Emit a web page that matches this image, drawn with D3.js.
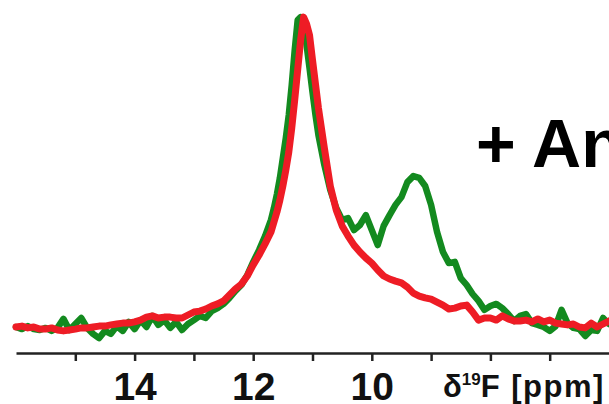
<!DOCTYPE html>
<html>
<head>
<meta charset="utf-8">
<script src="https://cdn.jsdelivr.net/npm/d3@7"></script>
<style>
  html, body { margin: 0; padding: 0; background: #fff; overflow: hidden; }
  svg { display: block; }
</style>
</head>
<body>
<svg id="chart" width="609" height="404"></svg>
<script>
// chemical shift grid (ppm)
const ppm = [16.0,15.9,15.8,15.7,15.6,15.5,15.4,15.3,15.2,15.1,15.0,14.9,14.8,14.7,14.6,14.5,14.4,14.3,14.2,14.1,
  14.0,13.9,13.8,13.7,13.6,13.5,13.4,13.3,13.2,13.1,13.0,12.9,12.8,12.7,12.6,12.5,12.4,12.3,12.2,12.1,
  12.0,11.9,11.8,11.7,11.65,11.6,11.55,11.5,11.45,11.4,11.35,11.3,11.25,11.2,11.15,11.1,11.05,11.0,10.95,10.9,
  10.85,10.8,10.7,10.6,10.5,10.4,10.3,10.2,10.1,10.0,9.9,9.8,9.7,9.6,9.5,9.4,9.3,9.2,9.1,9.0,
  8.9,8.8,8.7,8.6,8.5,8.4,8.3,8.2,8.1,8.0,7.9,7.8,7.7,7.6,7.5,7.4,7.3,7.2,7.1,7.0,
  6.9,6.8,6.7,6.6,6.5,6.4,6.3,6.2,6.1,6.0];

// green spectrum (without additive) – intensity, arbitrary units
const greenSeries = [1.0,0.3,1.3,0.3,0.0,0.7,-0.3,0.7,3.7,0.0,2.0,4.0,0.7,-1.3,-2.7,-0.3,-1.3,1.3,-0.3,2.7,
  0.3,3.3,1.0,4.7,1.7,3.3,0.7,2.7,0.0,2.0,3.3,4.7,4.0,6.3,7.3,8.7,10.7,13.0,15.0,18.3,
  22.7,26.7,31.3,36.7,40.7,45.3,50.7,57.3,64.0,71.7,81.7,93.3,103.3,104.3,100.7,95.0,87.3,79.3,71.7,65.0,
  60.0,55.0,46.7,40.7,36.7,37.3,33.3,35.0,38.3,33.3,28.3,34.7,38.3,41.7,44.3,49.3,51.3,50.7,48.0,41.7,
  32.7,26.0,22.3,22.7,17.3,15.0,12.0,9.7,6.7,8.0,8.7,7.3,5.3,3.0,4.7,5.3,2.3,1.7,1.0,-0.3,
  1.3,6.7,2.3,0.7,0.3,-2.0,0.0,-0.3,4.0,2.0];

// red spectrum (+ additive) – intensity, arbitrary units
const redSeries = [1.0,1.3,0.7,1.0,0.3,0.3,0.7,0.0,-0.3,0.0,0.3,0.7,0.7,1.0,1.3,1.3,1.7,2.0,2.3,2.3,
  2.7,3.3,4.3,4.7,4.0,4.3,4.3,4.0,4.0,5.0,6.0,6.3,7.0,8.0,8.7,9.7,11.7,13.7,15.3,18.0,
  21.7,25.0,28.7,32.7,36.0,39.3,43.3,48.0,53.3,59.3,67.3,76.7,86.7,96.7,104.3,102.0,98.3,90.0,82.0,74.0,
  67.3,60.7,48.0,40.0,34.7,31.3,28.3,26.0,24.0,22.3,20.0,18.0,17.0,16.3,15.7,14.3,12.3,11.3,10.7,10.3,
  9.3,8.3,7.0,7.3,8.0,8.3,6.0,3.3,4.0,4.0,3.3,4.7,3.7,3.0,3.0,3.3,2.7,3.7,2.7,3.3,
  2.3,2.0,1.7,2.0,1.0,0.7,2.3,1.0,2.0,3.0];

const tickValues = [15, 14, 13, 12, 11, 10, 9, 8, 7];
const tickLabels = ["", "14", "", "12", "", "10", "", "", ""];
const axisTitle = "F [ppm]";
const annotation = "+ An";

const svg = d3.select("#chart");

const x = d3.scaleLinear().domain([16, 6]).range([16, 609]);
const y = d3.scaleLinear().domain([0, 110]).range([330, 0]);

const line = series => d3.line()
  .x((d, i) => x(ppm[i]))
  .y(d => y(d))
  .curve(d3.curveLinear)(series);

svg.append("path")
  .attr("d", line(greenSeries))
  .attr("fill", "none")
  .attr("stroke", "#138a1f")
  .attr("stroke-width", 6.5)
  .attr("stroke-linejoin", "round")
  .attr("stroke-linecap", "round");

svg.append("path")
  .attr("d", line(redSeries))
  .attr("fill", "none")
  .attr("stroke", "#ee1c25")
  .attr("stroke-width", 7)
  .attr("stroke-linejoin", "round")
  .attr("stroke-linecap", "round");

// x axis
const axis = d3.axisBottom(x)
  .tickValues(tickValues)
  .tickFormat((d, i) => tickLabels[i])
  .tickSize(8)
  .tickSizeOuter(0)
  .tickPadding(11);

const gAxis = svg.append("g")
  .attr("transform", "translate(0,353)")
  .call(axis);

gAxis.select(".domain").attr("stroke", "#222").attr("stroke-width", 2.5);
gAxis.selectAll(".tick line").attr("stroke", "#222").attr("stroke-width", 2.5);
gAxis.selectAll(".tick text")
  .attr("fill", "#111")
  .style("font-family", "'Liberation Sans', Arial, sans-serif")
  .style("font-weight", "bold")
  .style("font-size", "39px");

// axis title: δ19F [ppm]
const title = svg.append("text")
  .attr("x", 443)
  .attr("y", 397)
  .attr("fill", "#111")
  .style("font-family", "'Liberation Sans', Arial, sans-serif")
  .style("font-weight", "bold")
  .style("font-size", "31px");
title.append("tspan").text("δ");
title.append("tspan").attr("dy", -12).style("font-size", "17px").text("19");
title.append("tspan").attr("dy", 12).style("letter-spacing", "1.5px").text(axisTitle);

// annotation
svg.append("text")
  .attr("x", 476)
  .attr("y", 167)
  .attr("fill", "#000")
  .style("font-family", "'Liberation Sans', Arial, sans-serif")
  .style("font-weight", "bold")
  .style("font-size", "68px")
  .text(annotation);
</script>
</body>
</html>
